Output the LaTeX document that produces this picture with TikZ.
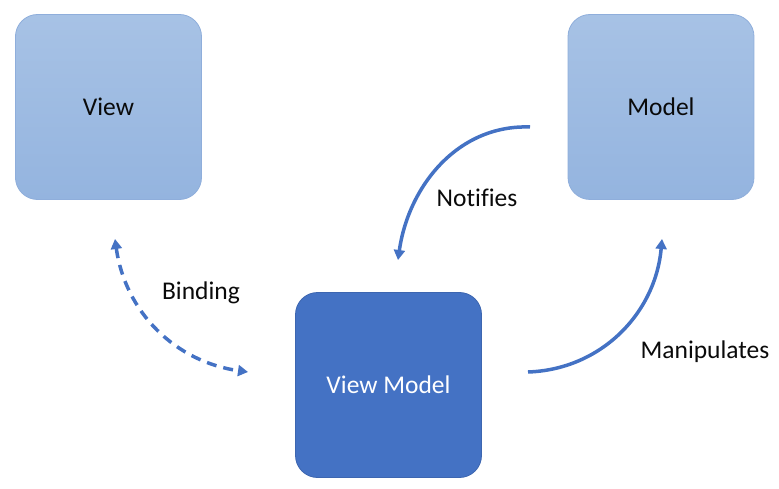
\documentclass[tikz,border=0pt]{standalone}
\usepackage{fontspec}
\setmainfont{Carlito}[Ligatures=NoCommon]
\usetikzlibrary{arrows.meta}
\definecolor{lightbox}{HTML}{A7C2E5}
\definecolor{lightboxb}{HTML}{94B4DF}
\definecolor{lightedge}{HTML}{8FAEDB}
\definecolor{vmblue}{HTML}{4472C4}
\definecolor{vmedge}{HTML}{3D66B0}
\definecolor{txt}{HTML}{0A0A0A}
\begin{document}
\begin{tikzpicture}[x=1pt,y=-1pt,
  lbox/.style={rectangle, rounded corners=22pt, minimum width=186pt, minimum height=185pt,
    top color=lightbox, bottom color=lightboxb, draw=lightedge, line width=0.8pt,
    font=\fontsize{25.5}{30}\selectfont, text=txt},
  vmbox/.style={rectangle, rounded corners=22pt, minimum width=186pt, minimum height=185pt,
    fill=vmblue, draw=vmedge, line width=0.8pt,
    font=\fontsize{25.5}{30}\selectfont, text=white},
  lbl/.style={font=\fontsize{25.5}{30}\selectfont, text=txt},
  conn/.style={draw=vmblue, line width=3.5pt, -{Triangle[length=10pt,width=11pt]}},
]
\useasboundingbox (0,0) rectangle (779,489);
\node[lbox] (view) at (108.5,107) {View};
\node[lbox] (model) at (661,107) {Model};
\node[vmbox] (vm) at (388.5,385) {View Model};

\coordinate (bt) at (115,239);
\coordinate (bb) at (248,372);
\coordinate (ns) at (530,127);
\coordinate (ne) at (398,260);
\coordinate (ms) at (528,372);
\coordinate (me) at (662,239);

\draw[conn, {Triangle[length=10pt,width=11pt]}-{Triangle[length=10pt,width=11pt]}, dash pattern=on 10pt off 7pt]
  (bt) to[out=-82, in=172] (bb);
\draw[conn] (ns) to[out=178, in=82] (ne);
\draw[conn] (ms) to[out=2, in=-95] (me);

\node[lbl] (binding) at (201,293) {Binding};
\node[lbl] (notifies) at (477,198) {Notifies};
\node[lbl] (manip) at (705,352) {Manipulates};
\end{tikzpicture}
\end{document}
